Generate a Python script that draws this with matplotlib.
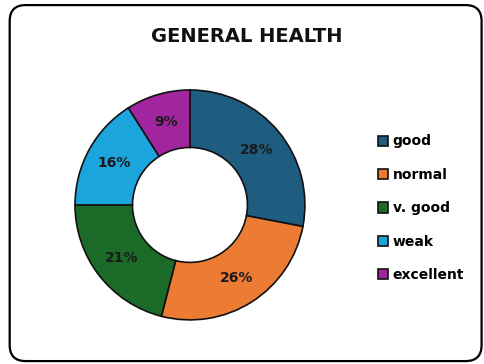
import matplotlib
matplotlib.use("Agg")
import matplotlib.pyplot as plt
from matplotlib.patches import FancyBboxPatch
import numpy as np

# General health survey shares (%)
categories = ["good", "normal", "v. good", "weak", "excellent"]
shares = [28, 26, 21, 16, 9]
colors = ["#1f5d80", "#ec7c34", "#1b6a28", "#1ca4dc", "#a1259e"]

plt.rcParams["font.family"] = ["DejaVu Sans"]

fig = plt.figure(figsize=(4.84, 3.64), dpi=100)

# rounded frame around the whole chart
frame = FancyBboxPatch((0.02, 0.008), 0.975, 0.978,
                       boxstyle="round,pad=0,rounding_size=0.033",
                       transform=fig.transFigure, facecolor="none",
                       edgecolor="black", linewidth=1.6, mutation_aspect=484 / 364,
                       zorder=5)
fig.patches.append(frame)

ax = fig.add_axes([0.155, 0.121, 0.475, 0.632])
wedges, _ = ax.pie(shares, colors=colors, startangle=90, counterclock=False,
                   radius=1.0, wedgeprops=dict(width=0.5, edgecolor="#111111", linewidth=1.2))
ax.set_xlim(-1.0, 1.0)
ax.set_ylim(-1.0, 1.0)
ax.set_aspect("equal")
ax.axis("off")

# percentage labels in the middle of each ring segment
total = sum(shares)
angle = 90.0
for val in shares:
    sweep = 360.0 * val / total
    mid = np.deg2rad(angle - sweep / 2)
    ax.text(0.75 * np.cos(mid), 0.75 * np.sin(mid), f"{val}%",
            ha="center", va="center", fontsize=10, fontweight="bold", color="#1a1a1a")
    angle -= sweep

fig.text(0.51, 0.90, "GENERAL HEALTH", ha="center", va="center",
         fontsize=14, fontweight="bold", color="#111111")

fig.legend(wedges, categories, loc="upper left", bbox_to_anchor=(0.755, 0.665),
           frameon=False, handlelength=0.75, handleheight=0.75, handletextpad=0.3,
           labelspacing=1.4, prop=dict(weight="bold", size=10))

fig.savefig("out.png", dpi=100)
